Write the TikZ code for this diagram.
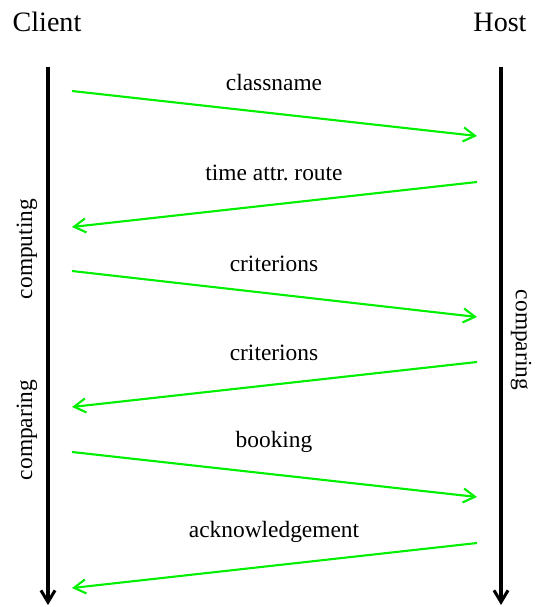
\documentclass[tikz,border=0pt]{standalone}
\usepackage{fontspec}
\setmainfont{Liberation Serif}
\usepackage{xcolor}
\usetikzlibrary{arrows.meta,positioning}
\definecolor{msggreen}{RGB}{0,240,0}

\begin{document}
\begin{tikzpicture}[x=0.4272pt, y=-0.4272pt,
		party/.style={font=\large, inner sep=0pt},
		life/.style={line width=1.3pt, -{Straight Barb[length=5pt,width=6pt]}},
		msg/.style={msggreen, line width=0.9pt, -{Straight Barb[length=5pt,width=6pt]}},
		msglabel/.style={inner sep=0pt},
		phase/.style={inner sep=0pt}]
	\useasboundingbox (0,0) rectangle (536,607);
	
	\node[party] (client) at (47,22) {Client};
	\node[party] (host) at (500,22) {Host};
	
	% lifelines
	\coordinate (ctop) at (48,67);
	\coordinate (cbot) at (48,605);
	\coordinate (htop) at (501,67);
	\coordinate (hbot) at (501,605);
	\draw[life] (ctop) -- (cbot);
	\draw[life] (htop) -- (hbot);
	
	% message ends
	\coordinate (c1) at (72,91);   \coordinate (h1) at (477,136);
	\coordinate (h2) at (477,182); \coordinate (c2) at (72,227);
	\coordinate (c3) at (72,271);  \coordinate (h3) at (477,317);
	\coordinate (h4) at (477,362); \coordinate (c4) at (72,407);
	\coordinate (c5) at (72,452);  \coordinate (h5) at (477,497);
	\coordinate (h6) at (477,543); \coordinate (c6) at (72,588);
	
	\draw[msg] (c1) -- (h1);
	\draw[msg] (h2) -- (c2);
	\draw[msg] (c3) -- (h3);
	\draw[msg] (h4) -- (c4);
	\draw[msg] (c5) -- (h5);
	\draw[msg] (h6) -- (c6);
	
	\node[msglabel] (l1) at (274,82) {classname};
	\node[msglabel] (l2) at (274,173) {time attr.\ route};
	\node[msglabel] (l3) at (274,264) {criterions};
	\node[msglabel] (l4) at (274,353) {criterions};
	\node[msglabel] (l5) at (274,442) {booking};
	\node[msglabel] (l6) at (274,532) {acknowledgement};
	
	% phases
	\node[phase, rotate=90] (compute) at (27,249) {computing};
	\node[phase, rotate=90] (compareC) at (27,430) {comparing};
	\node[phase, rotate=-90] (compareH) at (521,340) {comparing};
\end{tikzpicture}
\end{document}
